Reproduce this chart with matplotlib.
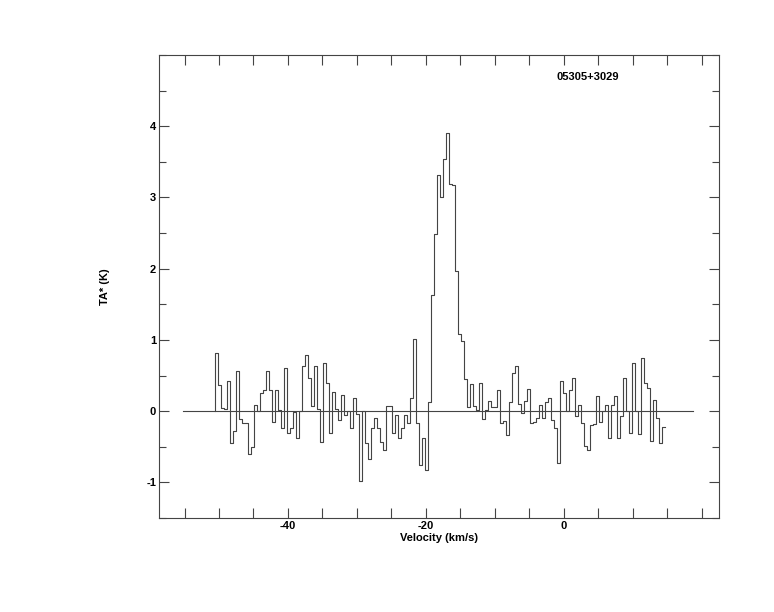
import numpy as np
import matplotlib
matplotlib.use("Agg")
import matplotlib.pyplot as plt
from matplotlib.ticker import MultipleLocator

plt.rcParams['font.family'] = ['Liberation Sans', 'DejaVu Sans']

# ---- data ----
source_name = "05305+3029"
v_start = -50.58          # left edge of first channel (km/s)
chan_width = 0.4348       # channel width (km/s)
ta_values = [
    0.81, 0.365, 0.05, 0.03, 0.42, -0.45, -0.28, 0.56, -0.11, -0.16,
    -0.17, -0.60, -0.51, 0.08, 0.0, 0.26, 0.29, 0.57, 0.29, -0.15,
    0.29, 0.02, -0.23, 0.60, -0.30, -0.23, -0.01, -0.37, 0.0, 0.63,
    0.79, 0.46, 0.07, 0.64, 0.03, -0.44, 0.68, 0.39, -0.30, 0.27,
    0.03, -0.13, 0.23, -0.05, 0.0, -0.23, 0.19, -0.04, -0.98, 0.0,
    -0.45, -0.67, -0.24, -0.10, -0.24, -0.44, -0.55, 0.07, 0.07, -0.31,
    -0.06, -0.38, -0.24, -0.06, -0.17, 0.18, 1.01, -0.17, -0.76, -0.38,
    -0.82, 0.13, 1.63, 2.49, 3.31, 3.01, 3.54, 3.90, 3.19, 3.18,
    1.97, 1.09, 0.99, 0.45, 0.06, 0.38, 0.075, 0.01, 0.40, -0.11,
    0.02, 0.14, 0.06, 0.06, 0.30, -0.17, -0.14, -0.34, 0.13, 0.53,
    0.64, 0.10, -0.03, 0.14, 0.31, -0.17, -0.15, -0.10, 0.08, -0.09,
    0.13, 0.19, -0.13, -0.24, -0.73, 0.43, 0.25, 0.0, 0.29, 0.47,
    -0.07, 0.09, -0.17, -0.49, -0.54, -0.20, -0.18, 0.21, -0.15, 0.0,
    0.08, -0.37, 0.08, 0.21, -0.38, -0.07, 0.46, 0.0, -0.31, 0.67,
    0.0, -0.32, 0.75, 0.40, 0.33, -0.42, 0.16, -0.09, -0.45, -0.22,
]
baseline_range = [-55.2, 18.8]
x_limits = [-58.7, 22.5]
y_limits = [-1.5, 5.0]
x_tick_labels = [-40, -20, 0]
y_tick_labels = [-1, 0, 1, 2, 3, 4]

# ---- plot ----
vals = np.array(ta_values)
edges = v_start + chan_width * np.arange(len(vals) + 1)

fig = plt.figure(figsize=(7.74, 6.12), dpi=100)
ax = fig.add_axes([159/774, 1-518/612, (719-159)/774, (518-55)/612])

col = '#444444'
xs = np.r_[edges[0], edges]
ys = np.r_[0.0, vals, vals[-1]]
ax.plot(xs, ys, drawstyle='steps-post', color=col, lw=0.8)
ax.plot(baseline_range, [0, 0], color=col, lw=0.8)

ax.set_xlim(*x_limits)
ax.set_ylim(*y_limits)

for s in ax.spines.values():
    s.set_color(col)
    s.set_linewidth(0.8)

xt = np.arange(-55, 25, 5)
ax.set_xticks(xt)
ax.set_xticklabels([str(t) if t in x_tick_labels else '' for t in xt])
ax.set_yticks(y_tick_labels)
ax.set_yticklabels([str(t) for t in y_tick_labels])
ax.yaxis.set_minor_locator(MultipleLocator(0.5))

ax.tick_params(axis='x', which='major', direction='in', length=7, width=0.8,
               color=col, top=True, bottom=True, pad=2, labelsize=8)
ax.tick_params(axis='y', which='major', direction='in', length=7.5, width=0.8,
               color=col, left=True, right=True, pad=2, labelsize=8)
ax.tick_params(axis='y', which='minor', direction='in', length=5, width=0.8,
               color=col, left=True, right=True)
for lab in ax.get_xticklabels() + ax.get_yticklabels():
    lab.set_fontweight('bold')

ax.set_xlabel('Velocity (km/s)', fontsize=8, fontweight='bold', labelpad=1.5)
ax.set_ylabel('TA* (K)', fontsize=8, fontweight='bold', labelpad=26)
ax.text(-1.0, 4.69, source_name, fontsize=8, fontweight='bold',
        ha='left', va='center')

fig.savefig('out.png', dpi=100)
